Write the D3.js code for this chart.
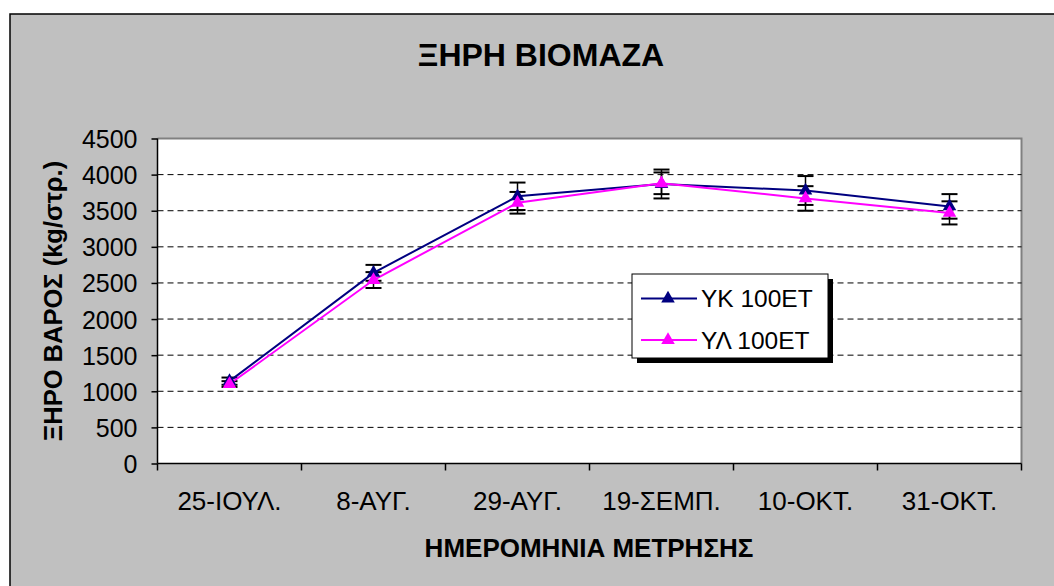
<!DOCTYPE html>
<html>
<head>
<meta charset="utf-8">
<script src="https://cdn.jsdelivr.net/npm/d3@7"></script>
<style>
  body { margin: 0; background: #fff; }
  text { font-family: "Liberation Sans", Arial, sans-serif; }
</style>
</head>
<body>
<svg id="chart"></svg>
<script>
// categories (dates of measurement)
var dates = ["25-ΙΟΥΛ.", "8-ΑΥΓ.", "29-ΑΥΓ.", "19-ΣΕΜΠ.", "10-ΟΚΤ.", "31-ΟΚΤ."];
// dry biomass per series
var ykValues = [1140, 2640, 3700, 3870, 3780, 3560];
var ylValues = [1100, 2540, 3610, 3880, 3670, 3470];
// error bar half-widths
var ykErrors = [50, 110, 190, 200, 200, 170];
var ylErrors = [40, 110, 150, 150, 170, 160];
var yTicks = [0, 500, 1000, 1500, 2000, 2500, 3000, 3500, 4000, 4500];
var seriesNames = ["ΥΚ 100ΕΤ", "ΥΛ 100ΕΤ"];

var screen = {width: 1054, height: 586};
var margins = {top: 138.5, left: 157.5, right: 32.5, bottom: 122.5};
var graph = {
    width: screen.width - margins.left - margins.right,
    height: screen.height - margins.top - margins.bottom
};

var svg = d3.select("#chart")
    .attr("width", screen.width)
    .attr("height", screen.height);

// chart area (gray, cut by the window on right/bottom)
svg.append("rect")
    .attr("x", 10).attr("y", 14)
    .attr("width", screen.width).attr("height", screen.height)
    .attr("fill", "#c0c0c0")
    .attr("stroke", "#000").attr("stroke-width", 1.5);

// title
svg.append("text")
    .attr("x", 541).attr("y", 66)
    .attr("text-anchor", "middle")
    .attr("font-size", 32).attr("font-weight", "bold")
    .text("ΞΗΡΗ ΒΙΟΜΑΖΑ");

var xScale = d3.scaleBand()
    .domain(dates)
    .range([0, graph.width]);

var yScale = d3.scaleLinear()
    .domain([0, 4500])
    .range([graph.height, 0]);

var g = svg.append("g")
    .attr("transform", "translate(" + margins.left + "," + margins.top + ")");

// plot area
g.append("rect")
    .attr("width", graph.width).attr("height", graph.height)
    .attr("fill", "#fff");
g.append("path")
    .attr("d", "M0,0H" + graph.width + "V" + graph.height)
    .attr("fill", "none")
    .attr("stroke", "#808080").attr("stroke-width", 2);

// dashed gridlines
g.selectAll(".grid")
    .data(yTicks.filter(function(t) { return t > 0 && t < 4500; }))
    .enter().append("line")
    .attr("x1", 0).attr("x2", graph.width)
    .attr("y1", function(t) { return yScale(t); })
    .attr("y2", function(t) { return yScale(t); })
    .attr("stroke", "#000").attr("stroke-width", 1)
    .attr("stroke-dasharray", "6,4");

// axes
var yAxis = d3.axisLeft(yScale).tickValues(yTicks)
    .tickFormat(d3.format("d")).tickSize(6).tickPadding(14);
var yg = g.append("g").call(yAxis);
yg.select(".domain").remove();
yg.selectAll(".tick line").attr("stroke-width", 1.5);
yg.append("line").attr("y1", 0).attr("y2", graph.height)
    .attr("stroke", "#000").attr("stroke-width", 1.5);
yg.selectAll("text").attr("font-size", 25).attr("fill", "#000")
    .attr("dy", "0.36em")
    .style("font-family", "Liberation Sans, Arial, sans-serif");

var xg = g.append("g").attr("transform", "translate(0," + graph.height + ")");
xg.append("line").attr("x1", 0).attr("x2", graph.width)
    .attr("stroke", "#000").attr("stroke-width", 1.5);
xg.selectAll(".xt")
    .data(d3.range(dates.length + 1))
    .enter().append("line")
    .attr("x1", function(i) { return i * xScale.bandwidth(); })
    .attr("x2", function(i) { return i * xScale.bandwidth(); })
    .attr("y1", 0).attr("y2", 7)
    .attr("stroke", "#000").attr("stroke-width", 1.5);
xg.selectAll(".xl")
    .data(dates)
    .enter().append("text")
    .attr("x", function(d) { return xScale(d) + xScale.bandwidth() / 2; })
    .attr("y", 46.5)
    .attr("text-anchor", "middle")
    .attr("font-size", 26)
    .text(function(d) { return d; });

// axis titles
svg.append("text")
    .attr("x", 589).attr("y", 557)
    .attr("text-anchor", "middle")
    .attr("font-size", 26).attr("font-weight", "bold")
    .text("ΗΜΕΡΟΜΗΝΙΑ ΜΕΤΡΗΣΗΣ");
svg.append("text")
    .attr("transform", "translate(62,301) rotate(-90)")
    .attr("text-anchor", "middle")
    .attr("font-size", 25.5).attr("font-weight", "bold")
    .text("ΞΗΡΟ ΒΑΡΟΣ (kg/στρ.)");

var cx = function(i) { return xScale(dates[i]) + xScale.bandwidth() / 2; };
var tri = d3.symbol().type(d3.symbolTriangle).size(80);

var series = [
    {name: seriesNames[0], values: ykValues, errors: ykErrors, color: "#000080"},
    {name: seriesNames[1], values: ylValues, errors: ylErrors, color: "#ff00ff"}
];

// error bars
series.forEach(function(s) {
    var eb = g.append("g");
    s.values.forEach(function(v, i) {
        var x = cx(i), e = s.errors[i];
        eb.append("line").attr("x1", x).attr("x2", x)
            .attr("y1", yScale(v - e)).attr("y2", yScale(v + e))
            .attr("stroke", "#000").attr("stroke-width", 1.5);
        [v - e, v + e].forEach(function(c) {
            eb.append("line").attr("x1", x - 8).attr("x2", x + 8)
                .attr("y1", yScale(c)).attr("y2", yScale(c))
                .attr("stroke", "#000").attr("stroke-width", 2);
        });
    });
});

// lines and markers
var line = d3.line()
    .x(function(d, i) { return cx(i); })
    .y(function(d) { return yScale(d); });

series.forEach(function(s) {
    g.append("path")
        .datum(s.values)
        .attr("d", line)
        .attr("fill", "none")
        .attr("stroke", s.color).attr("stroke-width", 2);
});
series.forEach(function(s) {
    g.selectAll(null)
        .data(s.values)
        .enter().append("path")
        .attr("d", tri)
        .attr("transform", function(d, i) { return "translate(" + cx(i) + "," + yScale(d) + ")"; })
        .attr("fill", s.color);
});

// legend
var lg = svg.append("g").attr("transform", "translate(632,274)");
lg.append("rect").attr("x", 5).attr("y", 5).attr("width", 196).attr("height", 84).attr("fill", "#000");
lg.append("rect").attr("width", 196).attr("height", 84)
    .attr("fill", "#fff").attr("stroke", "#000").attr("stroke-width", 1);
series.forEach(function(s, i) {
    var y = 24.5 + i * 41.5;
    lg.append("line").attr("x1", 9).attr("x2", 65).attr("y1", y).attr("y2", y)
        .attr("stroke", s.color).attr("stroke-width", 2);
    lg.append("path").attr("d", tri)
        .attr("transform", "translate(36," + y + ")")
        .attr("fill", s.color);
    lg.append("text").attr("x", 69).attr("y", y + 8.5)
        .attr("font-size", 24.5)
        .text(s.name);
});
</script>
</body>
</html>
